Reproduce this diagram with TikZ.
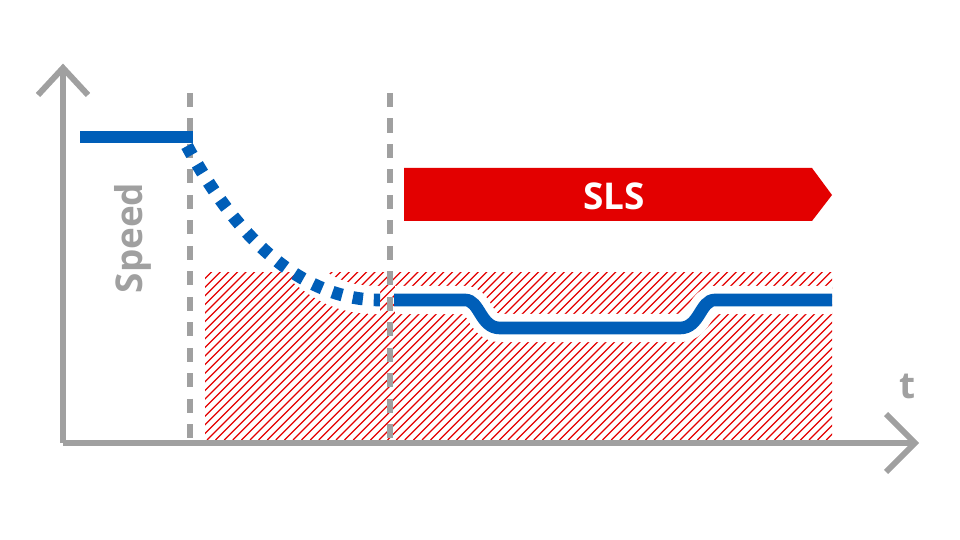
\documentclass[tikz,border=0pt]{standalone}
\usepackage{fontspec}
\setmainfont{Open Sans}
\begin{document}
\begin{tikzpicture}[x=0.02cm,y=-0.02cm,
  axis/.style={draw=axgray,line width=3.4pt},
  vdash/.style={draw=axgray,line width=3.4pt,dash pattern=on 8pt off 6.5pt},
  blue/.style={draw=slsblue,line width=7.2pt},
  halo/.style={draw=white,line width=16pt}]
\definecolor{axgray}{HTML}{A0A0A0}
\definecolor{slsblue}{HTML}{005EB8}
\definecolor{slsred}{HTML}{E30000}
\useasboundingbox (0,0) rectangle (960,540);
% hatch
\begin{scope}
\clip (205,273) rectangle (832,440);
\foreach \i in {0,8.6,...,820} \draw[slsred,line width=0.7pt] (\i+35,440) -- ++(170,-170);
\end{scope}
% dashed verticals
\draw[vdash] (190,93) -- (190,440);
\draw[vdash] (390,93) -- (390,440);
% halos
\draw[halo] (300,270) .. controls (330,295) and (350,300) .. (380,300);
\draw[halo,line join=round] (395,300) -- (465,300) .. controls (480,300) and (480,328) .. (500,328) -- (680,328) .. controls (700,328) and (700,300) .. (715,300) -- (832,300);
% axes
\coordinate (o) at (63,443);
\coordinate (yt) at (63,68);
\coordinate (xt) at (915,443);
\draw[axis] (o) -- (yt);
\draw[axis] (o) -- (xt);
\draw[axis,line join=miter] (38,95) -- (yt) -- (88,95);
\draw[axis,line join=miter] (886,414) -- (xt) -- (886,472);
% blue speed line
\draw[blue] (80,137) -- (193,137);
\draw[blue,dash pattern=on 5.8pt off 6.2pt] (187,146) .. controls (235,235) and (300,300) .. (380,300);
\draw[blue] (394,300) -- (465,300) .. controls (480,300) and (480,328) .. (500,328) -- (680,328) .. controls (700,328) and (700,300) .. (715,300) -- (832,300);
% SLS arrow
\fill[slsred] (404,168) -- (812,168) -- (832,195) -- (812,221) -- (404,221) -- cycle;
\node[text=white,font=\bfseries\fontsize{21}{24}\selectfont] (sls) at (614,196) {SLS};
\node[text=axgray,rotate=90,font=\bfseries\fontsize{21}{24}\selectfont] (sp) at (133,238) {Speed};
\node[text=axgray,font=\bfseries\fontsize{21}{24}\selectfont] (t) at (907,386) {t};
\end{tikzpicture}
\end{document}
